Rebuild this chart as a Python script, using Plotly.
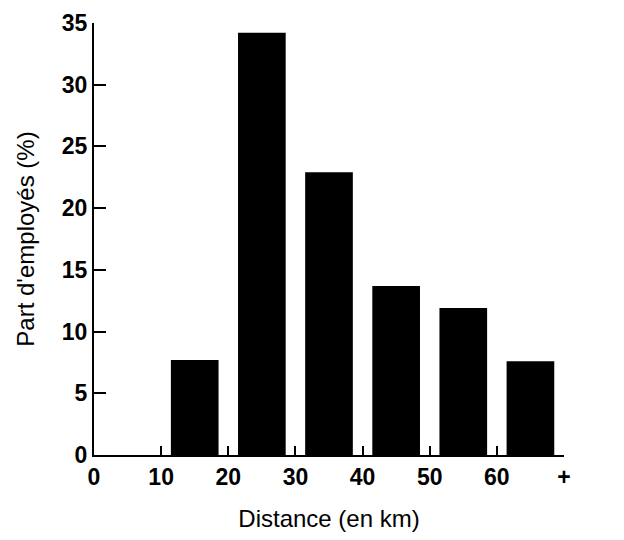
import plotly.graph_objects as go

# Data
bin_centers = [5, 15, 25, 35, 45, 55, 65]
shares = [0, 7.7, 34.2, 22.9, 13.7, 11.9, 7.6]
tick_vals = [0, 10, 20, 30, 40, 50, 60, 70]
tick_text = ["0", "10", "20", "30", "40", "50", "60", "+"]
y_ticks = [0, 5, 10, 15, 20, 25, 30, 35]

FONT = "Liberation Sans, Arial, sans-serif"

fig = go.Figure(
    go.Bar(
        x=bin_centers,
        y=shares,
        width=7.1,
        marker=dict(color="black", line=dict(width=0)),
    )
)

# page body has an 8px default margin; size the figure to fit the 624x540 window
fig.update_layout(
    width=608,
    height=524,
    margin=dict(l=86, r=52, t=15, b=77),
    paper_bgcolor="white",
    plot_bgcolor="white",
    showlegend=False,
    font=dict(family=FONT, color="black"),
)

fig.update_xaxes(
    range=[0, 70],
    tickmode="array",
    tickvals=tick_vals,
    ticktext=tick_text,
    ticks="inside",
    ticklen=9,
    tickwidth=2,
    tickcolor="black",
    showline=True,
    linecolor="black",
    linewidth=2,
    showgrid=False,
    zeroline=False,
    automargin=False,
    tickfont=dict(family=FONT, size=23, color="black", weight="bold"),
    title=dict(text="Distance (en km)", font=dict(family=FONT, size=24, color="black"), standoff=24),
    fixedrange=True,
)

fig.update_yaxes(
    range=[0, 35],
    tickmode="array",
    tickvals=y_ticks,
    ticks="inside",
    ticklen=12,
    tickwidth=2,
    tickcolor="black",
    showline=True,
    linecolor="black",
    linewidth=2,
    showgrid=False,
    zeroline=False,
    automargin=False,
    tickfont=dict(family=FONT, size=23, color="black", weight="bold"),
    title=dict(text="Part d'employés (%)", font=dict(family=FONT, size=24, color="black"), standoff=20),
    fixedrange=True,
)

fig.write_html("out.html")
